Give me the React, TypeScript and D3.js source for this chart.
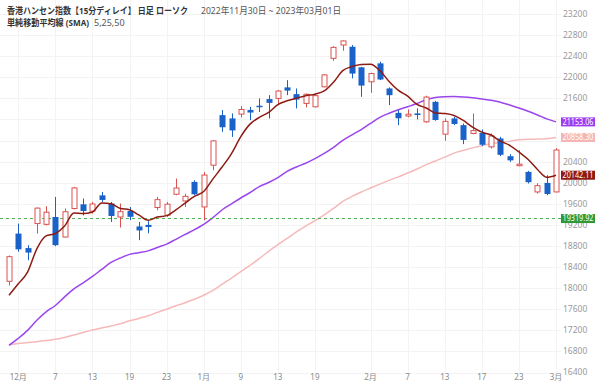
import React, { useEffect, useRef } from 'react';
import * as d3 from 'd3';

// trading days, 2022-11-30 .. 2023-03-01
const dates = [
  '2022-11-30', '2022-12-01', '2022-12-02', '2022-12-05', '2022-12-06', '2022-12-07', '2022-12-08', '2022-12-09',
  '2022-12-12', '2022-12-13', '2022-12-14', '2022-12-15', '2022-12-16', '2022-12-19', '2022-12-20', '2022-12-21',
  '2022-12-22', '2022-12-23', '2022-12-28', '2022-12-29', '2022-12-30', '2023-01-03', '2023-01-04', '2023-01-05',
  '2023-01-06', '2023-01-09', '2023-01-10', '2023-01-11', '2023-01-12', '2023-01-13', '2023-01-16', '2023-01-17',
  '2023-01-18', '2023-01-19', '2023-01-20', '2023-01-26', '2023-01-27', '2023-01-30', '2023-01-31', '2023-02-01',
  '2023-02-02', '2023-02-03', '2023-02-06', '2023-02-07', '2023-02-08', '2023-02-09', '2023-02-10', '2023-02-13',
  '2023-02-14', '2023-02-15', '2023-02-16', '2023-02-17', '2023-02-20', '2023-02-21', '2023-02-22', '2023-02-23',
  '2023-02-24', '2023-02-27', '2023-02-28', '2023-03-01',
];

const opens = [
  18130, 19035, 18760, 19225, 19210, 19350, 18970, 19510, 19590, 19460, 19760, 19605, 19350, 19465, 19170, 19200,
  19530, 19382, 19781, 19654, 20015, 19540, 20332, 21282, 21219, 21301, 21380, 21460, 21586, 21599, 21808, 21680,
  21504, 21440, 21819, 22359, 22611, 22579, 22188, 21914, 22264, 21788, 21325, 21265, 21314, 21155, 21534, 20921,
  21219, 21092, 20934, 20946, 20680, 20839, 20503, 20330, 20205, 19825, 19996, 19825,
];
const highs = [
  18620, 19225, 18815, 19530, 19555, 19730, 19510, 19920, 19700, 19635, 19825, 19635, 19605, 19540, 19255, 19270,
  19730, 19635, 20079, 19790, 20047, 20205, 20807, 21377, 21314, 21453, 21440, 21600, 21662, 21757, 21946, 21788,
  21693, 21693, 22060, 22590, 22700, 22611, 22199, 22085, 22294, 21808, 21377, 21390, 21409, 21650, 21553, 21219,
  21250, 21124, 21314, 21010, 20934, 20870, 20541, 20617, 20224, 19990, 20142, 20655,
];
const lows = [
  18050, 18690, 18530, 19035, 19190, 18795, 18960, 19495, 19380, 19415, 19635, 19255, 19150, 19290, 18910, 19040,
  19477, 19350, 19762, 19540, 19762, 19287, 20237, 20964, 20869, 21238, 21187, 21340, 21219, 21472, 21661, 21409,
  21428, 21428, 21808, 22313, 22503, 21979, 21629, 21705, 21946, 21472, 21092, 21240, 21200, 21136, 21174, 20794,
  21092, 20731, 20921, 20693, 20649, 20503, 20395, 20313, 19985, 19794, 19762, 19819,
];
const closes = [
  18597, 18736, 18675, 19518, 19441, 18815, 19450, 19901, 19464, 19596, 19673, 19369, 19451, 19353, 19095, 19160,
  19679, 19593, 19899, 19741, 19781, 20145, 20793, 21052, 20992, 21388, 21331, 21436, 21514, 21739, 21747, 21578,
  21678, 21651, 22045, 22567, 22689, 22070, 21842, 22072, 21958, 21660, 21222, 21299, 21284, 21624, 21190, 21164,
  21114, 20812, 20988, 20720, 20887, 20529, 20424, 20351, 20010, 19944, 19786, 20620,
];

const sma5 = [
  17867, 18082, 18302, 18746, 18993, 19037, 19180, 19425, 19414, 19445, 19617, 19601, 19511, 19488, 19388, 19286,
  19348, 19376, 19485, 19614, 19739, 19832, 20072, 20302, 20553, 20874, 21111, 21240, 21332, 21482, 21553, 21603,
  21651, 21679, 21740, 21904, 22126, 22204, 22243, 22248, 22126, 21920, 21751, 21642, 21485, 21418, 21324, 21312,
  21275, 21181, 21054, 20960, 20904, 20787, 20710, 20582, 20440, 20252, 20103, 20142,
];
const sma25 = [
  16915, 17047, 17199, 17392, 17551, 17671, 17835, 17985, 18100, 18222, 18355, 18487, 18572, 18641, 18671, 18707,
  18772, 18836, 18926, 19019, 19109, 19208, 19337, 19487, 19599, 19710, 19814, 19925, 20004, 20096, 20214, 20299,
  20370, 20457, 20555, 20671, 20804, 20909, 21008, 21127, 21239, 21318, 21384, 21440, 21501, 21575, 21617, 21632,
  21634, 21627, 21611, 21587, 21565, 21525, 21473, 21417, 21354, 21285, 21210, 21153,
];
const sma50 = [
  16925, 16950, 16967, 16985, 17007, 17030, 17064, 17112, 17160, 17205, 17243, 17282, 17325, 17381, 17426, 17475,
  17541, 17601, 17667, 17724, 17789, 17866, 17958, 18075, 18192, 18313, 18431, 18562, 18699, 18825, 18943, 19068,
  19178, 19279, 19389, 19513, 19645, 19740, 19824, 19899, 19973, 20045, 20110, 20183, 20260, 20342, 20413, 20485,
  20561, 20613, 20661, 20700, 20745, 20765, 20784, 20815, 20826, 20827, 20834, 20858,
];

const yTickValues = [
  16400, 16800, 17200, 17600, 18000, 18400, 18800, 19200, 19600, 20000, 20400, 20800, 21200, 21600, 22000, 22400,
  22800, 23200,
];
const xTickDates = [
  '2022-12-01', '2022-12-07', '2022-12-13', '2022-12-19', '2022-12-23', '2023-01-03', '2023-01-09', '2023-01-13',
  '2023-01-19', '2023-02-01', '2023-02-07', '2023-02-13', '2023-02-17', '2023-02-23', '2023-03-01',
];
const xTickTexts = ['12月', '7', '13', '19', '23', '1月', '9', '13', '19', '2月', '7', '13', '17', '23', '3月'];

const markerValues = [21153.06, 20858.30, 20142.11, 19319.92];
const markerColors = ['#9b3df0', '#f4b4b4', '#8e1b12', '#2e9a36'];
const referenceLevel = 19319.92;

const FONT = "'Noto Sans', 'Noto Sans CJK JP', sans-serif";

const HangSengChart: React.FC = () => {
  const svgRef = useRef<SVGSVGElement | null>(null);

  useEffect(() => {
    const width = 600;
    const height = 386;
    const plotRight = 561;

    const svg = d3.select(svgRef.current)
      .attr('width', width)
      .attr('height', height)
      .style('font-family', FONT);
    svg.selectAll('*').remove();

    const x = d3.scalePoint<string>().domain(dates).range([9, 556]);
    const y = d3.scaleLinear().domain([16400, 23200]).range([372.5, 14]);

    svg.append('rect').attr('width', width).attr('height', height).attr('fill', '#fff');

    // grid
    const grid = svg.append('g');
    grid.selectAll('.hg')
      .data(yTickValues)
      .enter()
      .append('line')
      .attr('x1', 0)
      .attr('x2', plotRight)
      .attr('y1', d => Math.round(y(d)) + 0.5)
      .attr('y2', d => Math.round(y(d)) + 0.5)
      .attr('stroke', '#f3f3f3');
    grid.selectAll('.vg')
      .data(xTickDates)
      .enter()
      .append('line')
      .attr('x1', d => Math.round(x(d)!) + 0.5)
      .attr('x2', d => Math.round(x(d)!) + 0.5)
      .attr('y1', 0)
      .attr('y2', 372)
      .attr('stroke', '#f3f3f3');

    // right axis labels (those fully covered by a value marker are left out)
    const hiddenBy = (v: number) => markerValues.some(m => Math.abs(y(m) - y(v)) < 5);
    svg.append('g').selectAll('text')
      .data(yTickValues.filter(v => !hiddenBy(v)))
      .enter()
      .append('text')
      .attr('x', 563)
      .attr('y', d => y(d))
      .attr('dy', '0.35em')
      .attr('font-size', 8.5)
      .attr('fill', '#9a9a9a')
      .text(d => d);

    // bottom labels
    svg.append('g').selectAll('text')
      .data(xTickDates)
      .enter()
      .append('text')
      .attr('x', d => x(d)!)
      .attr('y', 380)
      .attr('text-anchor', 'middle')
      .attr('font-size', 8)
      .attr('fill', '#8a8a8a')
      .text((d, i) => xTickTexts[i]);

    // moving averages
    const line = d3.line<number>()
      .x((_, i) => x(dates[i])!)
      .y(v => y(v))
      .curve(d3.curveMonotoneX);
    const smaSeries = [
      { values: sma50, color: '#f6b9b9' },
      { values: sma25, color: '#9b45ec' },
    ];
    smaSeries.forEach(s => {
      svg.append('path')
        .attr('d', line(s.values))
        .attr('fill', 'none')
        .attr('stroke', s.color)
        .attr('stroke-width', 1.5);
    });

    // reference level
    svg.append('line')
      .attr('x1', 0)
      .attr('x2', plotRight)
      .attr('y1', y(referenceLevel))
      .attr('y2', y(referenceLevel))
      .attr('stroke', '#4caf50')
      .attr('stroke-dasharray', '3,3');

    // candles
    const candles = svg.append('g').selectAll('.candle')
      .data(dates)
      .enter()
      .append('g')
      .attr('class', 'candle');

    const up = (i: number) => closes[i] >= opens[i];
    const upColor = '#d9534f';
    const downColor = '#1a62c7';

    candles.append('line')
      .attr('x1', d => Math.round(x(d)!) + 0.5)
      .attr('x2', d => Math.round(x(d)!) + 0.5)
      .attr('y1', (d, i) => y(highs[i]))
      .attr('y2', (d, i) => y(lows[i]))
      .attr('stroke', (d, i) => (up(i) ? upColor : downColor))
      .attr('stroke-width', 1);

    candles.append('rect')
      .attr('x', (d, i) => Math.round(x(d)!) - (up(i) ? 2 : 2.5))
      .attr('width', (d, i) => (up(i) ? 5 : 6))
      .attr('y', (d, i) => y(Math.max(opens[i], closes[i])))
      .attr('height', (d, i) => Math.max(1.5, Math.abs(y(opens[i]) - y(closes[i]))))
      .attr('fill', (d, i) => (up(i) ? '#fff' : downColor))
      .attr('stroke', (d, i) => (up(i) ? upColor : 'none'))
      .attr('stroke-width', 1);

    // short average on top
    svg.append('path')
      .attr('d', line(sma5))
      .attr('fill', 'none')
      .attr('stroke', '#8e1b12')
      .attr('stroke-width', 1.5);

    // last value markers
    const markers = svg.append('g').selectAll('g')
      .data(markerValues)
      .enter()
      .append('g');
    markers.append('rect')
      .attr('x', 561)
      .attr('y', d => y(d) - 4.5)
      .attr('width', 34)
      .attr('height', 9)
      .attr('fill', (d, i) => markerColors[i]);
    markers.append('text')
      .attr('x', 562.5)
      .attr('y', d => y(d))
      .attr('dy', '0.35em')
      .attr('font-size', 8)
      .attr('fill', '#fff')
      .attr('textLength', 31)
      .attr('lengthAdjust', 'spacingAndGlyphs')
      .text(d => d.toFixed(2));

    // title
    const title = svg.append('g').attr('fill', '#333');
    title.append('text')
      .attr('x', 7)
      .attr('y', 14)
      .attr('font-size', 9)
      .attr('font-weight', 'bold')
      .attr('textLength', 181)
      .attr('lengthAdjust', 'spacingAndGlyphs')
      .text('香港ハンセン指数【15分ディレイ】 日足 ローソク');
    title.append('text')
      .attr('x', 201)
      .attr('y', 14)
      .attr('font-size', 9)
      .attr('fill', '#555')
      .attr('textLength', 140)
      .attr('lengthAdjust', 'spacingAndGlyphs')
      .text('2022年11月30日 ~ 2023年03月01日');
    title.append('text')
      .attr('x', 7)
      .attr('y', 26)
      .attr('font-size', 9)
      .attr('font-weight', 'bold')
      .attr('textLength', 82)
      .attr('lengthAdjust', 'spacingAndGlyphs')
      .text('単純移動平均線 (SMA)');
    title.append('text')
      .attr('x', 94)
      .attr('y', 26)
      .attr('font-size', 9)
      .attr('fill', '#555')
      .text('5,25,50');
  }, []);

  return (
    <div style={{ position: 'absolute', left: 0, top: 0 }}>
      <svg ref={svgRef}></svg>
    </div>
  );
};

export default HangSengChart;
